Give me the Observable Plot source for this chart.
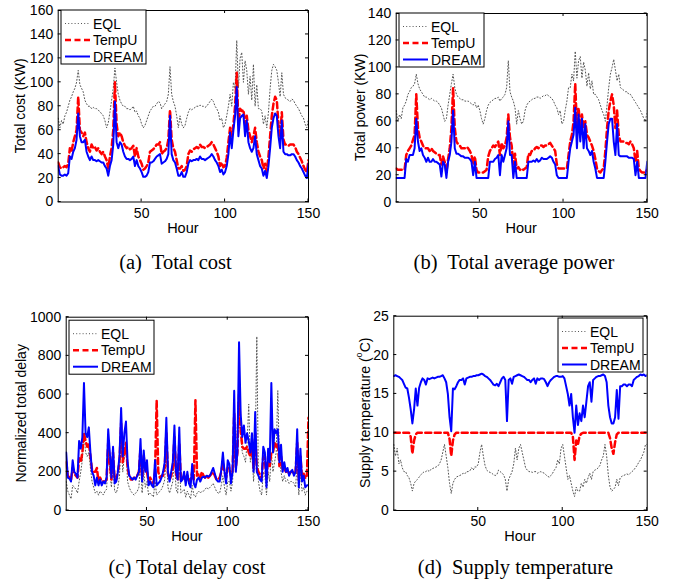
<!DOCTYPE html>
<html><head><meta charset="utf-8">
<script src="https://cdn.jsdelivr.net/npm/d3@7"></script>
<script src="https://cdn.jsdelivr.net/npm/@observablehq/plot@0.6"></script>
<style>
body{margin:0;background:#fff;}
#page{position:relative;width:673px;height:587px;background:#fff;overflow:hidden;}
.panel{position:absolute;}
.cap{position:absolute;font-family:"Liberation Serif","Times New Roman",serif;font-size:20.5px;color:#000;white-space:pre;transform:translate(-50%,-50%);line-height:1;}
</style></head><body><div id="page"></div>
<script>
const hours = Array.from({length: 151}, (_, i) => i);
const xTicks = [50, 100, 150];
const seriesNames = ["EQL", "TempU", "DREAM"];

// (a) Total cost (KW)
const costEQL = [
70,62,68,65,72,75,80,85,88,92,
95,100,110,98,95,92,85,82,80,80,
78,79,78,78,77,75,74,72,68,62,
66,75,85,95,112,100,90,85,82,80,
80,78,78,77,78,80,75,76,72,70,
65,62,64,68,72,76,78,80,80,82,
84,83,78,80,82,84,90,113,90,84,
80,72,62,72,65,62,64,70,75,78,
77,78,79,80,80,81,80,80,79,80,
82,84,86,84,80,78,75,68,70,62,
65,72,80,90,80,100,95,135,95,120,
125,100,118,110,90,105,85,115,80,98,
78,78,76,65,72,62,75,95,110,115,
113,110,100,88,108,90,87,86,85,84,
86,85,82,80,78,75,72,70,65,62,
70];
const costTempU = [
33,29,28,29,30,29,32,45,42,50,
55,60,88,60,58,55,58,50,45,42,
48,45,46,43,45,42,40,42,38,35,
28,38,45,60,100,65,55,58,55,50,
47,45,46,44,45,47,38,45,38,35,
32,27,28,30,33,42,43,44,46,48,
48,50,40,42,43,45,52,77,52,45,
42,35,28,28,30,26,27,30,40,43,
42,44,45,46,45,48,46,46,45,46,
47,48,50,48,45,42,38,30,33,29,
30,37,50,62,55,65,80,108,65,78,
76,77,65,72,60,55,50,55,62,50,
42,38,35,28,32,25,38,55,72,82,
88,85,65,55,75,52,48,48,47,48,
48,48,46,42,40,37,34,30,27,25,
35];
const costDREAM = [
30,23,22,22,23,22,24,38,36,42,
45,52,74,55,50,50,52,42,38,35,
38,35,35,34,35,34,33,33,30,28,
22,30,35,48,84,50,45,50,48,42,
38,36,36,35,36,38,30,35,30,28,
25,21,21,22,25,33,33,34,36,38,
39,40,32,33,34,36,40,72,40,35,
33,28,22,22,25,21,21,25,32,35,
34,35,35,36,35,38,36,36,35,36,
37,38,40,38,35,33,30,25,27,23,
25,30,40,58,45,60,72,96,55,70,
72,73,55,68,50,45,42,45,55,40,
35,30,28,22,26,20,30,45,62,70,
74,72,55,45,68,42,40,40,39,39,
40,40,38,35,33,30,28,25,22,20,
32];

// (b) Total power (KW)
const powerEQL = [
68,60,65,62,70,72,75,80,82,85,
86,88,95,88,84,82,80,78,78,77,
76,77,76,75,75,74,72,70,65,60,
62,72,80,88,95,85,80,78,77,76,
76,75,75,75,74,73,72,74,70,72,
68,62,58,62,68,72,74,75,76,77,
77,78,75,77,78,80,85,105,82,78,
75,70,58,68,62,58,60,68,72,74,
75,76,77,77,78,78,77,78,79,79,
80,79,78,77,75,72,70,65,68,58,
60,68,75,85,85,95,90,112,92,105,
108,92,104,98,86,96,84,90,80,80,
78,76,72,68,65,60,72,85,95,100,
106,98,90,95,85,84,83,82,82,80,
80,78,76,74,72,70,68,65,62,60,
68];
const powerTempU = [
25,24,24,24,24,24,35,38,40,42,
46,50,80,55,48,45,42,40,40,40,
38,40,38,37,36,35,35,28,34,30,
22,32,40,55,85,55,45,43,42,40,
40,40,41,40,38,35,28,34,24,22,
22,22,22,23,24,34,38,40,42,41,
43,45,35,44,40,42,48,65,48,42,
28,36,25,26,24,25,24,25,26,36,
35,38,38,40,41,40,42,42,41,42,
42,43,44,42,40,38,28,25,25,25,
25,25,25,35,45,50,60,88,55,70,
55,65,55,60,50,48,45,42,38,32,
25,23,22,24,25,38,55,68,75,80,
72,55,68,50,45,45,45,44,44,43,
45,43,40,30,38,25,23,22,22,22,
24];
const powerDREAM = [
18,18,18,18,18,18,32,30,35,35,
35,40,62,45,38,40,35,33,30,33,
30,30,32,30,30,29,28,19,30,28,
18,30,35,45,68,40,36,36,35,34,
34,33,33,33,32,30,20,30,18,18,
18,18,18,18,18,18,30,30,30,32,
33,35,20,35,30,35,40,60,35,35,
18,30,18,18,18,18,18,18,18,30,
30,30,31,30,32,30,31,33,32,32,
32,33,34,33,30,28,20,18,18,18,
18,18,18,30,40,45,50,70,40,65,
45,62,40,58,40,38,35,38,30,25,
18,18,18,18,18,30,45,58,62,62,
45,35,58,35,34,34,34,34,34,33,
33,33,32,20,30,18,18,18,18,18,
30];

// (c) Normalized total delay
const delayEQL = [
150,100,80,60,130,120,110,90,150,200,
260,400,300,280,300,220,150,120,90,100,
80,100,90,80,100,110,300,200,120,250,
100,90,120,180,380,200,280,320,150,120,
100,90,80,90,100,120,250,90,200,120,
150,80,90,80,70,150,80,90,100,110,
130,160,300,120,90,120,150,280,110,90,
250,90,100,110,70,100,80,60,130,80,
70,90,100,90,100,100,110,120,110,120,
130,140,120,100,90,90,130,180,120,80,
150,150,100,150,350,200,450,650,400,300,
280,250,350,550,250,300,150,300,900,150,
100,80,200,180,80,200,150,300,200,250,
300,620,250,200,150,180,150,160,140,150,
150,140,120,250,80,200,100,120,80,100,
100];
const delayTempU = [
250,180,170,160,220,190,180,170,270,250,
300,400,360,330,350,280,210,200,200,220,
150,170,150,150,150,160,350,250,160,300,
160,160,200,250,450,250,300,350,220,180,
160,160,170,170,180,200,320,170,280,200,
200,150,170,150,140,200,570,200,170,180,
180,230,400,190,160,180,220,380,190,160,
350,160,160,180,150,180,160,150,200,160,
570,180,190,170,200,180,170,180,170,180,
190,200,180,160,160,170,200,250,200,170,
220,220,180,200,500,220,300,600,420,330,
320,320,330,300,280,320,220,400,220,200,
180,170,280,260,160,280,230,300,300,350,
330,350,230,280,210,220,200,210,190,200,
200,190,200,350,160,280,170,190,170,170,
480];
const delayDREAM = [
300,170,165,150,260,200,190,170,360,320,
380,660,400,380,430,300,200,180,130,170,
130,160,130,150,140,170,420,300,170,330,
140,150,200,280,530,280,400,460,250,180,
170,160,170,160,180,200,370,150,310,200,
260,130,150,130,120,260,130,140,150,170,
200,250,480,200,150,200,250,440,200,160,
430,150,160,200,130,200,140,120,240,140,
120,160,170,150,170,175,170,180,175,180,
200,220,190,160,150,150,210,300,200,140,
260,240,140,200,620,200,300,870,500,380,
440,350,400,360,300,400,200,510,200,180,
160,150,330,300,120,320,250,660,300,420,
400,420,250,340,200,250,200,220,180,200,
210,180,200,420,120,320,150,180,120,130,
130];

// (d) Supply temperature (°C)
const tempEQL = [
8.5,7.0,8.0,6.0,6.5,5.5,5.0,5.0,4.5,4.2,
3.5,2.5,3.5,3.8,4.0,4.3,4.6,4.8,5.0,5.0,
5.2,5.0,5.3,5.4,5.5,5.6,5.7,6.0,6.5,7.5,
8.5,7.0,5.5,3.5,2.2,3.5,4.0,4.3,4.4,4.5,
4.6,4.8,4.7,5.0,5.0,5.1,5.5,5.2,5.6,5.6,
6.0,7.5,8.5,7.0,5.8,5.2,5.0,4.9,4.8,4.6,
4.5,4.6,5.2,5.0,4.8,4.6,4.0,2.5,4.0,4.5,
5.0,6.0,8.0,6.5,8.0,8.5,7.5,6.5,5.5,5.2,
5.0,5.0,4.9,5.0,5.0,4.8,4.9,5.0,4.9,4.8,
4.6,4.4,4.3,4.5,4.8,5.2,5.5,6.5,6.0,8.0,
8.5,7.0,5.5,4.0,4.5,3.5,2.5,1.8,3.0,2.5,
2.5,3.5,3.0,4.0,3.5,4.2,4.8,4.0,5.0,5.2,
5.3,5.5,5.8,6.5,7.0,8.5,7.0,4.5,3.0,2.5,
2.7,3.0,4.0,3.2,4.2,4.4,4.5,4.6,4.7,4.6,
4.8,5.0,5.2,5.5,5.8,6.2,6.5,7.0,7.5,8.5,
8.5];
const tempTempU = [
10,10,10,10,10,10,10,10,10,10,
9.5,7.3,9.0,9.8,10,10,10,10,10,10,
10,10,10,10,10,10,10,10,10,10,
10,10,10,9.2,7.0,9.0,9.8,10,10,10,
10,10,10,10,10,10,10,10,10,10,
10,10,10,10,10,10,10,10,10,10,
10,10,10,10,10,10,10,10,10,10,
10,10,10,10,10,10,10,10,10,10,
10,10,10,10,10,10,10,10,10,10,
10,10,10,10,10,10,10,10,10,10,
10,10,10,10,10,10,9.5,6.5,9.0,8.5,
9.6,9.9,10,10,10,10,10,10,10,10,
10,10,10,10,10,10,10,10,9.3,8.0,
7.3,8.8,9.8,10,10,10,10,10,10,10,
10,10,10,10,10,10,10,10,10,10,
10];
const tempDREAM = [
17.3,17.4,17.3,17.2,17.0,16.8,16.3,15.8,15.7,14.5,
13.0,11.2,13.0,15.7,13.5,15.8,16.5,17.0,16.8,16.2,
17.0,16.9,17.0,17.1,17.0,17.1,17.2,17.2,17.3,17.4,
17.0,16.5,15.0,12.0,10.2,15.7,15.6,16.0,16.5,16.8,
16.8,17.0,16.2,17.0,17.1,17.2,17.2,17.3,17.3,17.4,
17.4,17.5,17.6,17.5,17.3,17.2,17.0,16.8,16.5,16.2,
16.1,16.3,16.0,16.5,17.0,17.2,16.8,11.5,16.8,17.0,
16.3,17.2,17.3,17.4,17.5,17.4,17.3,17.2,17.0,16.8,
16.8,16.5,16.8,17.0,16.3,17.0,16.8,17.0,17.0,16.9,
16.5,16.0,16.5,16.8,17.0,17.2,17.3,17.3,17.2,17.2,
17.3,17.0,16.0,15.0,13.5,15.0,12.0,10.0,13.5,11.0,
12.5,11.5,13.5,12.0,14.0,16.0,16.5,14.0,16.8,17.0,
17.2,17.3,17.3,17.4,17.5,17.3,16.5,13.5,12.0,11.2,
11.2,12.0,15.5,11.8,16.0,16.0,16.2,16.2,16.0,16.2,
16.2,16.0,16.8,17.0,17.2,17.3,17.5,17.4,17.5,17.3,
17.4];

const FONT = '"Liberation Sans", Arial, Helvetica, sans-serif';
const STYLES = [
  {stroke: "#555", strokeWidth: 1, strokeDasharray: "1,2.2"},
  {stroke: "#ff0000", strokeWidth: 2.5, strokeDasharray: "6,3.5"},
  {stroke: "#0000ff", strokeWidth: 2, strokeDasharray: null}
];

function decor(cfg) {
  return function (index, scales, values, dims) {
    const sx = scales.x, sy = scales.y;
    const fl = dims.marginLeft, fr = dims.width - dims.marginRight;
    const ft = dims.marginTop, fb = dims.height - dims.marginBottom;
    const g = d3.create("svg:g").attr("font-family", FONT).attr("fill", "#000");
    const tl = 3;
    for (const t of xTicks) {
      const px = sx(t);
      g.append("line").attr("x1", px).attr("x2", px).attr("y1", fb).attr("y2", fb - tl).attr("stroke", "#000");
      g.append("line").attr("x1", px).attr("x2", px).attr("y1", ft).attr("y2", ft + tl).attr("stroke", "#000");
    }
    for (const t of cfg.yticks) {
      const py = sy(t);
      g.append("line").attr("x1", fl).attr("x2", fl + tl).attr("y1", py).attr("y2", py).attr("stroke", "#000");
      g.append("line").attr("x1", fr).attr("x2", fr - tl).attr("y1", py).attr("y2", py).attr("stroke", "#000");
    }
    // y label
    const yl = g.append("text")
      .attr("transform", `translate(${fl - cfg.ylabelOffset},${(ft + fb) / 2}) rotate(-90)`)
      .attr("text-anchor", "middle").attr("dominant-baseline", "central").attr("font-size", 14);
    if (cfg.super) {
      yl.append("tspan").text(cfg.ylabel[0]);
      yl.append("tspan").attr("dy", -6).attr("font-size", 9).text(cfg.super);
      yl.append("tspan").attr("dy", 6).text(cfg.ylabel[1]);
    } else {
      yl.text(cfg.ylabel);
    }
    // x label
    g.append("text").attr("x", (fl + fr) / 2).attr("y", fb + 26)
      .attr("text-anchor", "middle").attr("dominant-baseline", "central").attr("font-size", 14.5).text("Hour");
    // legend
    const bw = 85, bh = 54;
    const bx = cfg.legendRight != null ? fr - cfg.legendRight - bw : fl + cfg.legendLeft;
    const by = ft + cfg.legendTop;
    g.append("rect").attr("x", bx).attr("y", by).attr("width", bw).attr("height", bh)
      .attr("fill", "#fff").attr("stroke", "#000").attr("stroke-width", 1);
    const rows = [13.5, 30, 46.5];
    seriesNames.forEach((name, i) => {
      const st = STYLES[i];
      g.append("line").attr("x1", bx + 4).attr("x2", bx + 29).attr("y1", by + rows[i]).attr("y2", by + rows[i])
        .attr("stroke", st.stroke).attr("stroke-width", st.strokeWidth)
        .attr("stroke-dasharray", st.strokeDasharray);
      g.append("text").attr("x", bx + 32).attr("y", by + rows[i]).attr("dominant-baseline", "central")
        .attr("text-anchor", "start").attr("font-size", 14).text(name);
    });
    return g.node();
  };
}

function panel(cfg) {
  const series = [cfg.eql, cfg.tempu, cfg.dream];
  const chart = Plot.plot({
    width: cfg.width, height: cfg.height,
    marginLeft: cfg.ml, marginTop: cfg.mt, marginRight: cfg.mr, marginBottom: cfg.mb,
    x: {domain: [0, 150]},
    y: {domain: [0, cfg.ymax]},
    style: {fontFamily: FONT, fontSize: "14px", color: "#000", background: "#fff", overflow: "visible"},
    marks: [
      ...series.map((s, i) => Plot.lineY(s, {x: hours, clip: true, ...STYLES[i]})),
      Plot.frame({stroke: "#000", strokeWidth: 1}),
      Plot.axisX({ticks: xTicks, tickSize: 0, tickPadding: 6, label: null, fontSize: 14, tickFormat: d => String(d)}),
      Plot.axisY({ticks: cfg.yticks, tickSize: 0, tickPadding: 5, label: null, fontSize: 14, tickFormat: d => String(d)}),
      decor(cfg)
    ]
  });
  chart.classList.add("panel");
  chart.style.left = cfg.left + "px";
  chart.style.top = cfg.top + "px";
  document.getElementById("page").appendChild(chart);
}

panel({left: 0, top: 0, width: 340, height: 245, ml: 57.7, mt: 10, mr: 32, mb: 43.5,
  ymax: 160, yticks: [0,20,40,60,80,100,120,140,160],
  eql: costEQL, tempu: costTempU, dream: costDREAM,
  ylabel: "Total cost (KW)", ylabelOffset: 37.7, legendLeft: 3.3, legendTop: 0});
panel({left: 340, top: 0, width: 333, height: 245, ml: 55.7, mt: 13, mr: 26.3, mb: 43.3,
  ymax: 140, yticks: [0,20,40,60,80,100,120,140],
  eql: powerEQL, tempu: powerTempU, dream: powerDREAM,
  ylabel: "Total power (KW)", ylabelOffset: 35.7, legendLeft: 3.3, legendTop: 0});
panel({left: 0, top: 300, width: 340, height: 245, ml: 65.7, mt: 16.7, mr: 32, mb: 35,
  ymax: 1000, yticks: [0,200,400,600,800,1000],
  eql: delayEQL, tempu: delayTempU, dream: delayDREAM,
  ylabel: "Normalized total delay", ylabelOffset: 45, legendLeft: 3.3, legendTop: 3.5});
panel({left: 340, top: 300, width: 333, height: 245, ml: 53.3, mt: 15.7, mr: 26.3, mb: 35,
  ymax: 25, yticks: [0,5,10,15,20,25],
  eql: tempEQL, tempu: tempTempU, dream: tempDREAM,
  ylabel: ["Supply temperature (", "C)"], super: "o", ylabelOffset: 28, legendRight: 3.7, legendTop: 2.3});

const captions = [
  ["(a)  Total cost", 175.5, 262],
  ["(b)  Total average power", 514, 262],
  ["(c) Total delay cost", 187, 567],
  ["(d)  Supply temperature", 515.5, 567]
];
for (const [t, cx, cy] of captions) {
  const d = document.createElement("div");
  d.className = "cap";
  d.textContent = t;
  d.style.left = cx + "px";
  d.style.top = cy + "px";
  document.getElementById("page").appendChild(d);
}
</script></body></html>
